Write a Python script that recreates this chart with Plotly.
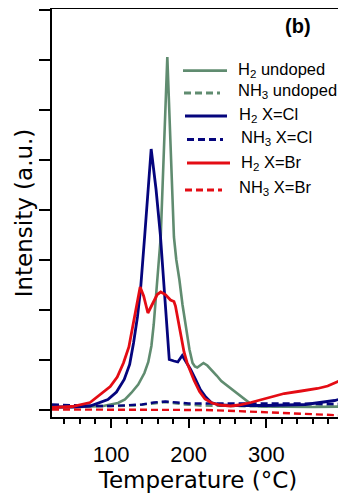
import plotly.graph_objects as go

# ---------------- data ----------------
temp_h2_undoped = [24, 60, 90, 109, 118, 126, 135, 143, 148, 152, 155, 158, 161, 164, 172.5, 181,
                   184, 188, 192, 197, 201, 205, 208, 211, 215, 219, 224, 229, 236, 242, 250, 259,
                   270, 281, 290, 320, 360, 400]
h2_undoped = [0.05, 0.05, 0.07, 0.13, 0.2, 0.33, 0.5, 0.73, 0.95, 1.27, 1.7, 2.27, 2.8, 3.45, 7.05, 3.45,
              3.0, 2.6, 2.1, 1.6, 1.2, 0.93, 0.86, 0.84, 0.88, 0.93, 0.88, 0.8, 0.68, 0.57, 0.47, 0.37,
              0.23, 0.1, 0.06, 0.05, 0.05, 0.06]

temp_nh3_undoped = [24, 50, 80, 110, 130, 145, 160, 170, 180, 195, 215, 240, 270, 300, 340, 370, 400]
nh3_undoped = [0.07, 0.07, 0.06, 0.07, 0.08, 0.1, 0.13, 0.15, 0.13, 0.1, 0.08, 0.07, 0.07, 0.06, 0.06, 0.06, 0.06]

temp_h2_cl = [24, 50, 73, 96, 107, 117, 124, 129, 134, 138, 143.5, 151.7, 158, 163.5, 169, 173, 175,
              181, 186, 191.7, 197, 202.5, 209, 215, 222, 229, 240, 259, 300, 350, 388, 400]
h2_cl = [0.05, 0.05, 0.07, 0.2, 0.35, 0.6, 0.9, 1.33, 1.85, 2.4, 3.5, 5.21, 4.4, 3.5, 2.3, 1.5, 1.0,
         0.97, 0.95, 1.08, 0.95, 0.8, 0.6, 0.4, 0.25, 0.14, 0.09, 0.08, 0.08, 0.1, 0.18, 0.23]

temp_nh3_cl = [24, 40, 60, 80, 100, 120, 140, 155, 170, 185, 200, 220, 250, 280, 310, 340, 370, 400]
nh3_cl = [0.1, 0.09, 0.08, 0.07, 0.07, 0.08, 0.1, 0.14, 0.16, 0.14, 0.12, 0.12, 0.12, 0.13, 0.12, 0.12, 0.11, 0.11]

temp_h2_br = [24, 50, 73, 99, 108, 116, 123, 129, 134, 137.5, 142, 147.5, 153, 159.5, 164, 170, 176.6,
              181, 183, 186, 189.5, 194, 198, 207, 214, 221, 230, 240, 254, 265, 280, 302, 323, 345,
              366, 379, 392, 398, 400]
h2_br = [0.04, 0.06, 0.14, 0.46, 0.65, 0.93, 1.25, 1.73, 2.2, 2.45, 2.27, 1.93, 2.1, 2.3, 2.35, 2.3, 2.19,
         2.16, 2.07, 1.8, 1.47, 1.15, 0.93, 0.58, 0.36, 0.21, 0.13, 0.09, 0.07, 0.09, 0.14, 0.23, 0.32, 0.37,
         0.42, 0.47, 0.57, 0.6, 0.3]

temp_nh3_br = [24, 60, 100, 140, 180, 220, 260, 300, 330, 360, 400]
nh3_br = [0.0, 0.0, -0.01, 0.0, 0.0, -0.01, -0.03, -0.06, -0.08, -0.1, -0.12]

legend_labels = ["H<sub>2</sub> undoped", "NH<sub>3</sub> undoped", "H<sub>2</sub> X=Cl",
                 "NH<sub>3</sub> X=Cl", "H<sub>2</sub> X=Br", "NH<sub>3</sub> X=Br"]
x_tick_vals = [100, 200, 300]
x_tick_text = ["100", "200", "300"]

# ---------------- styles ----------------
GREEN = "rgb(96,140,112)"
BLUE = "rgb(5,5,125)"
RED = "rgb(228,12,20)"
DASH = "7px,4px"

series = [
    (temp_h2_undoped, h2_undoped, GREEN, "solid", 2.6),
    (temp_nh3_undoped, nh3_undoped, GREEN, DASH, 2.4),
    (temp_h2_cl, h2_cl, BLUE, "solid", 2.8),
    (temp_nh3_cl, nh3_cl, BLUE, DASH, 2.4),
    (temp_h2_br, h2_br, RED, "solid", 2.8),
    (temp_nh3_br, nh3_br, RED, DASH, 2.4),
]

fig = go.Figure()
for (xs, ys, col, dash, w), lab in zip(series, legend_labels):
    fig.add_trace(go.Scatter(x=xs, y=ys, mode="lines", name=lab, showlegend=False,
                             line=dict(color=col, width=w, dash=dash)))

# page body has an 8px default margin: lay the figure out in page pixels minus 8
OFF = 8
PAGE_W, PAGE_H = 346, 495
W, H = PAGE_W - OFF, PAGE_H - OFF
L, R, T, B = 52 - OFF, 344 - OFF, 9 - OFF, 417 - OFF


def pxx(page_px):
    return (page_px - OFF - L) / (R - L)


def pxy(page_py):
    return (B - (page_py - OFF)) / (B - T)


# manual legend (line sample + label), positions in page pixels
leg_rows = [
    (183, 227, 70.7, 236, 70),
    (184, 220, 93.0, 236, 91.5),
    (185, 227, 116.0, 237, 115.5),
    (187, 223, 139.5, 239, 137.5),
    (187, 230, 163.0, 239, 162.5),
    (185, 222, 190.0, 237, 187.5),
]
for (x0, x1, ly, tx, ty), (xs, ys, col, dash, w), lab in zip(leg_rows, series, legend_labels):
    fig.add_shape(type="line", xref="paper", yref="paper", x0=pxx(x0), x1=pxx(x1),
                  y0=pxy(ly), y1=pxy(ly), line=dict(color=col, width=2.8, dash=dash))
    fig.add_annotation(xref="paper", yref="paper", x=pxx(tx), y=pxy(ty), text=lab,
                       showarrow=False, xanchor="left", yanchor="middle",
                       font=dict(family="Liberation Sans, Arial", size=16.5, color="black"))

fig.add_annotation(xref="paper", yref="paper", x=pxx(298), y=pxy(26), text="<b>(b)</b>",
                   showarrow=False, xanchor="center", yanchor="middle",
                   font=dict(family="Liberation Sans, Arial", size=20, color="black"))

fig.update_layout(
    width=W, height=H,
    margin=dict(l=L, r=W - R, t=T, b=H - B, pad=0, autoexpand=False),
    paper_bgcolor="white", plot_bgcolor="white",
    showlegend=False,
)
fig.update_xaxes(
    automargin=False,
    range=[24, 400], showgrid=False, zeroline=False,
    showline=True, linecolor="black", linewidth=1.5, mirror=True,
    ticks="outside", ticklen=9, tickwidth=1.5, tickcolor="black",
    tickvals=x_tick_vals, ticktext=x_tick_text,
    tickfont=dict(family="Liberation Sans, Arial", size=22, color="black"),
    ticklabelstandoff=8,
    minor=dict(ticks="outside", ticklen=5, tickwidth=1.5, tickcolor="black", dtick=20, tick0=0, showgrid=False),
    title=dict(text="Temperature (°C)", font=dict(family="DejaVu Sans", size=23, color="black"), standoff=0),
)
fig.update_yaxes(
    automargin=False,
    range=[-0.15, 8.01], showgrid=False, zeroline=False,
    showline=True, linecolor="black", linewidth=1.5, mirror=True,
    ticks="outside", ticklen=11, tickwidth=1.5, tickcolor="black",
    tickmode="linear", tick0=0, dtick=1, showticklabels=False,
    title=dict(text="Intensity (a.u.)", font=dict(family="DejaVu Sans", size=23, color="black"), standoff=0),
)

fig.write_html("out.html")
